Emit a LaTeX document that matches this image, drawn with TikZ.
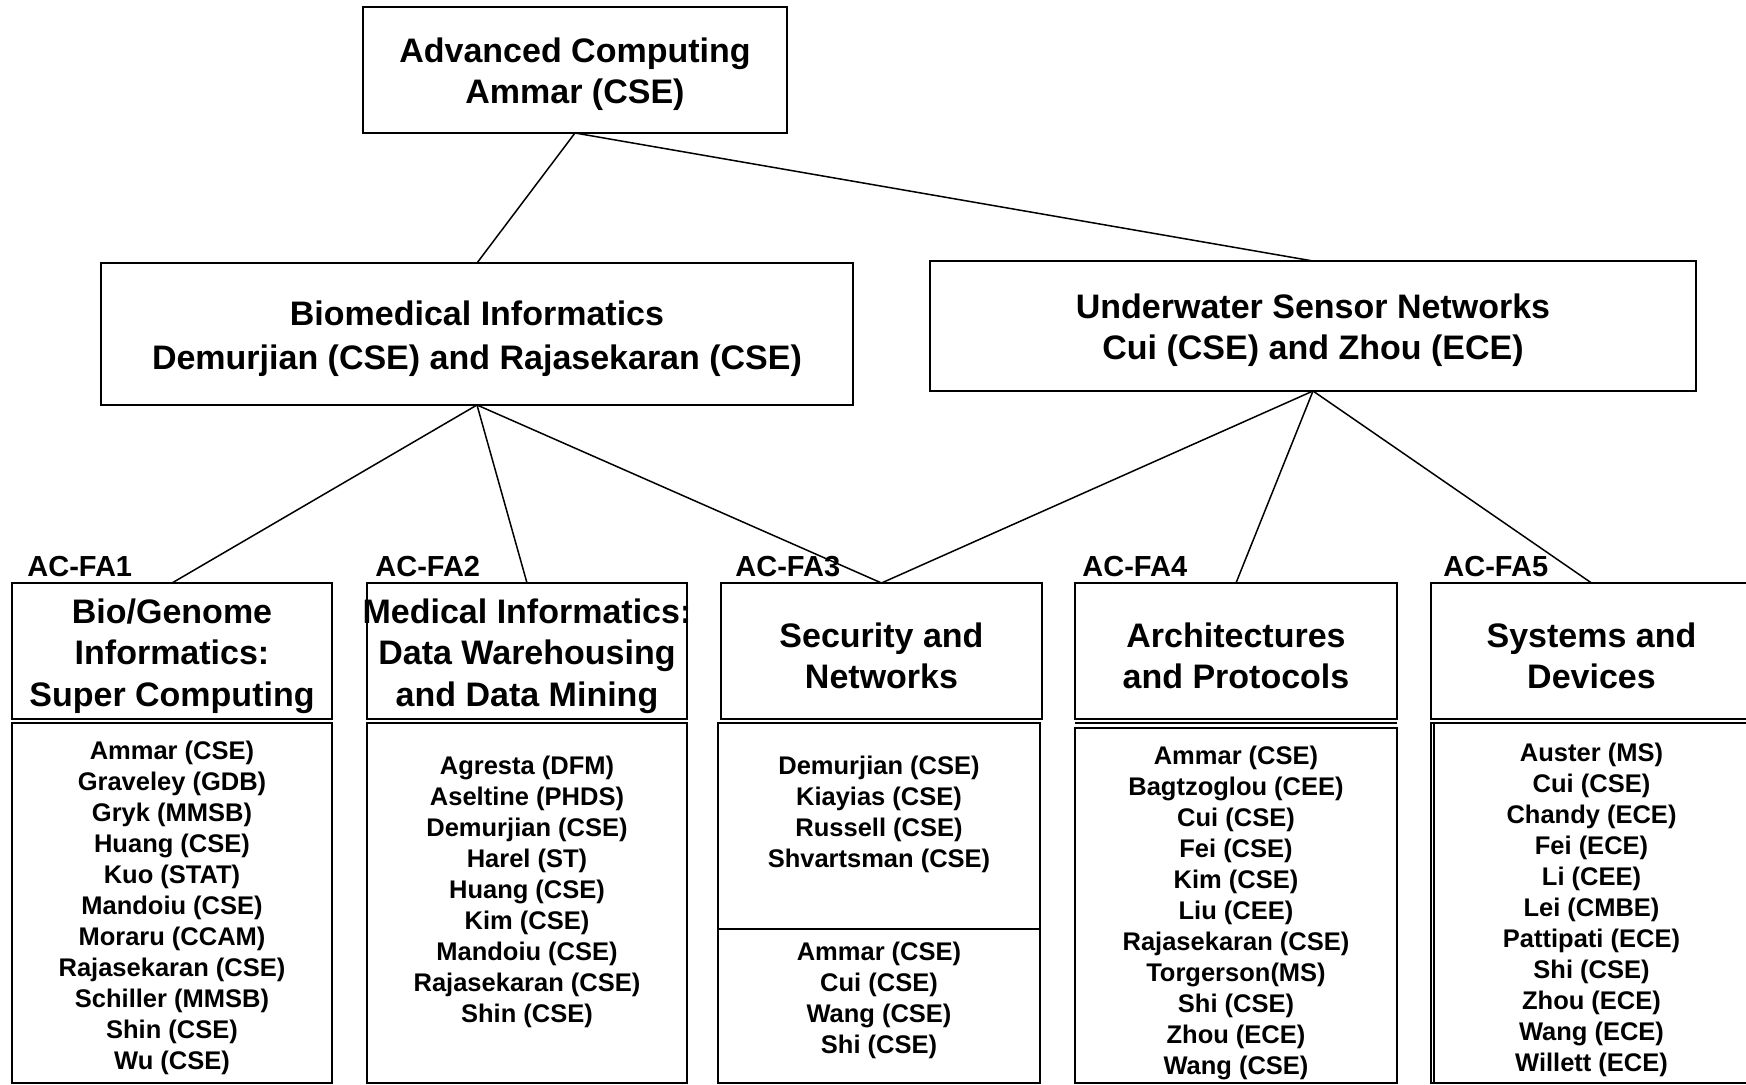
\documentclass[tikz,border=0pt]{standalone}
\usepackage{fontspec}
\setmainfont{Liberation Sans}
\begin{document}
\begin{tikzpicture}[x=0.5pt,y=-0.5pt,
  box/.style={draw=black,line width=1pt,fill=white,inner sep=0pt,outer sep=0pt},
  ttl/.style={font=\bfseries\fontsize{17}{20.7}\selectfont,align=center},
  mem/.style={font=\bfseries\fontsize{12.75}{15.5}\selectfont,align=center,inner sep=0pt},
  lab/.style={font=\bfseries\fontsize{14.5}{17}\selectfont,anchor=west,inner sep=0pt},
  conn/.style={draw=black,line width=0.75pt}]
\useasboundingbox (0,0) rectangle (1746,1085);
\fill[white] (0,0) rectangle (1746,1085);

% top-level boxes (text placed separately)
\node[box,minimum width=212pt,minimum height=63pt] (top) at (575,70) {};
\node[box,minimum width=376pt,minimum height=71pt] (bio) at (477,334) {};
\node[box,minimum width=383pt,minimum height=65pt] (uw) at (1313,326) {};

\node[ttl] (ttop) at (575,74) {Advanced Computing\\Ammar (CSE)};
\node[ttl,font=\bfseries\fontsize{17}{21.8}\selectfont] (tbio) at (477,339)
  {Biomedical Informatics\\Demurjian (CSE) and Rajasekaran (CSE)};
\node[ttl] (tuw) at (1313,330) {Underwater Sensor Networks\\Cui (CSE) and Zhou (ECE)};

\draw[conn] (top.south) -- (bio.north);
\draw[conn] (top.south) -- (uw.north);

% header boxes
\node[box,minimum width=160pt,minimum height=68pt] (h1) at (172,651) {};
\node[box,minimum width=160pt,minimum height=68pt] (h2) at (527,651) {};
\node[box,minimum width=160.5pt,minimum height=68pt] (h3) at (881.5,651) {};
\node[box,minimum width=161pt,minimum height=68pt] (h4) at (1236,651) {};
\node[box,minimum width=160.5pt,minimum height=68pt] (h5) at (1591.5,651) {};

\draw[conn] (bio.south) -- (h1.north);
\draw[conn] (bio.south) -- (h2.north);
\draw[conn] (bio.south) -- (h3.north);
\draw[conn] (uw.south) -- (h3.north);
\draw[conn] (uw.south) -- (h4.north);
\draw[conn] (uw.south) -- (h5.north);

% header titles
\node[ttl] (t1) at (172,656) {Bio/Genome\\Informatics:\\Super Computing};
\node[ttl] (t2) at (527,656) {Medical Informatics:\\Data Warehousing\\and Data Mining};
\node[ttl] (t3) at (881.5,656) {Security and\\Networks};
\node[ttl] (t4) at (1236,656) {Architectures\\and Protocols};
\node[ttl] (t5) at (1591.5,656) {Systems and\\Devices};

% labels
\node[lab] (l1) at (27,567) {AC-FA1};
\node[lab] (l2) at (375,567) {AC-FA2};
\node[lab] (l3) at (735,567) {AC-FA3};
\node[lab] (l4) at (1082,567) {AC-FA4};
\node[lab] (l5) at (1443,567) {AC-FA5};

% member boxes
\node[box,minimum width=160pt,minimum height=180pt] (m1) at (172,903) {};
\node[box,minimum width=160pt,minimum height=180pt] (m2) at (527,903) {};
\node[box,minimum width=161pt,minimum height=103pt] (m3a) at (879,826) {};
\node[box,minimum width=161pt,minimum height=77pt] (m3b) at (879,1006) {};
\node[box,minimum width=161pt,minimum height=177.5pt] (m4) at (1236,905.5) {};
\draw[line width=1pt] (m4.north west) ++(0,-5) coordinate (m4a) -- (m4a -| m4.north east);
\node[box,minimum width=160.5pt,minimum height=180pt] (m5) at (1591.5,903) {};
\draw[line width=1pt] ([xshift=1.5pt]m5.north west) -- ([xshift=1.5pt]m5.south west);

% member lists
\node[mem] (n1) at (172,907.5) {Ammar (CSE)\\Graveley (GDB)\\Gryk (MMSB)\\Huang (CSE)\\Kuo (STAT)\\Mandoiu (CSE)\\Moraru (CCAM)\\Rajasekaran (CSE)\\Schiller (MMSB)\\Shin (CSE)\\Wu (CSE)};
\node[mem] (n2) at (527,891.5) {Agresta (DFM)\\Aseltine (PHDS)\\Demurjian (CSE)\\Harel (ST)\\Huang (CSE)\\Kim (CSE)\\Mandoiu (CSE)\\Rajasekaran (CSE)\\Shin (CSE)};
\node[mem] (n3a) at (879,814.5) {Demurjian (CSE)\\Kiayias (CSE)\\Russell (CSE)\\Shvartsman (CSE)};
\node[mem] (n3b) at (879,1000.5) {Ammar (CSE)\\Cui (CSE)\\Wang (CSE)\\Shi (CSE)};
\node[mem] (n4) at (1236,912.5) {Ammar (CSE)\\Bagtzoglou (CEE)\\Cui (CSE)\\Fei (CSE)\\Kim (CSE)\\Liu (CEE)\\Rajasekaran (CSE)\\Torgerson(MS)\\Shi (CSE)\\Zhou (ECE)\\Wang (CSE)};
\node[mem] (n5) at (1591.5,909.5) {Auster (MS)\\Cui (CSE)\\Chandy (ECE)\\Fei (ECE)\\Li (CEE)\\Lei (CMBE)\\Pattipati (ECE)\\Shi (CSE)\\Zhou (ECE)\\Wang (ECE)\\Willett (ECE)};
\end{tikzpicture}
\end{document}
